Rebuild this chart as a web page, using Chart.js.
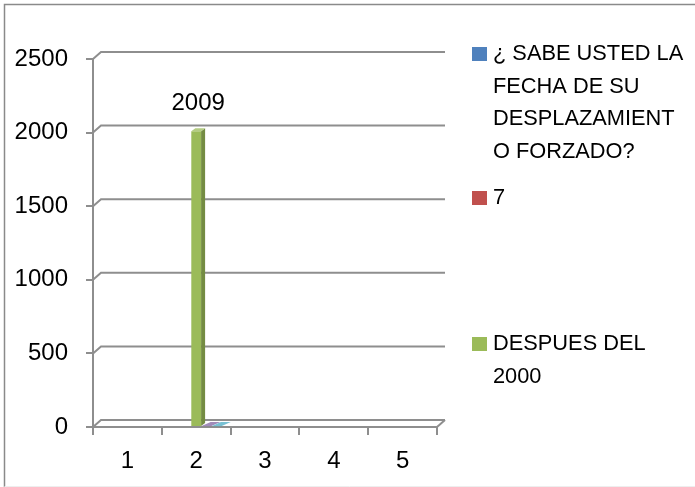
<!DOCTYPE html>
<html>
<head>
<meta charset="utf-8">
<script src="https://cdn.jsdelivr.net/npm/chart.js@4/dist/chart.umd.min.js"></script>
<style>
  html, body { margin: 0; padding: 0; background: #fff; }
  #wrap { position: relative; width: 695px; height: 487px; }
</style>
</head>
<body>
<div id="wrap"><canvas id="chart"></canvas></div>
<script>
"use strict";

// categories and tick labels
const categories = ["1", "2", "3", "4", "5"];
const yTicks = [0, 500, 1000, 1500, 2000, 2500];

// series
const sabeLabel = ["¿ SABE USTED LA", "FECHA DE SU", "DESPLAZAMIENT", "O FORZADO?"];
const sieteLabel = ["7"];
const despuesLabel = ["DESPUES DEL", "2000"];
const sabeValues = [0, 0, 0, 0, 0];
const sieteValues = [0, 0, 0, 0, 0];
const despuesValues = [0, 2009, 0, 0, 0];
// two unnamed series lying flat on the floor next to the green bar
const extraA = [0, 6, 0, 0, 0];
const extraB = [0, 6, 0, 0, 0];

const GRID = "#8e8e8e";
const FONT = "'Liberation Sans', Arial, sans-serif";

function shade(c, k) {
    let n = parseInt(c.slice(1), 16);
    let r = (n >> 16) & 255, g = (n >> 8) & 255, b = n & 255;
    let f = v => Math.max(0, Math.min(255, Math.round(k > 0 ? v + (255 - v) * k : v * (1 + k))));
    return "rgb(" + f(r) + "," + f(g) + "," + f(b) + ")";
}

// back wall, floor and frame (Excel 3D look)
const wallPlugin = {
    id: "wall",
    beforeDatasetsDraw(chart) {
        const ctx = chart.ctx, y = chart.scales.y, a = chart.chartArea;
        const dx = 8, dy = 7;
        ctx.save();
        ctx.strokeStyle = GRID;
        ctx.lineWidth = 2;
        yTicks.forEach(v => {
            const py = y.getPixelForValue(v);
            ctx.beginPath();
            ctx.moveTo(a.left, py);
            ctx.lineTo(a.left + dx, py - dy);
            ctx.lineTo(a.right + dx, py - dy);
            ctx.stroke();
        });
        // right edge of floor
        ctx.beginPath();
        ctx.moveTo(a.right, a.bottom);
        ctx.lineTo(a.right + dx, a.bottom - dy);
        ctx.stroke();
        ctx.restore();
    },
    afterDraw(chart) {
        const ctx = chart.ctx;
        ctx.save();
        ctx.strokeStyle = "#8a8a8a";
        ctx.lineWidth = 1.5;
        ctx.beginPath();
        ctx.moveTo(4.5, 487);
        ctx.lineTo(4.5, 4.5);
        ctx.lineTo(695, 4.5);
        ctx.stroke();
        ctx.strokeStyle = "#eeeeee";
        ctx.lineWidth = 1;
        ctx.beginPath();
        ctx.moveTo(4.5, 486.5);
        ctx.lineTo(695, 486.5);
        ctx.stroke();
        ctx.restore();
    }
};

// side and top faces on the bars, plus the value label
const barPlugin = {
    id: "bar3d",
    afterDatasetsDraw(chart) {
        const ctx = chart.ctx;
        ctx.save();
        chart.data.datasets.forEach((ds, i) => {
            const meta = chart.getDatasetMeta(i);
            meta.data.forEach((bar, j) => {
                if (!ds.data[j]) return;
                const p = bar.getProps(["x", "y", "width", "base"], true);
                const l = p.x - p.width / 2, r = p.x + p.width / 2;
                const flat = ds.data[j] < 50;
                const dx = flat ? 9 : 4, dy = flat ? 4 : 3;
                ctx.fillStyle = shade(ds.backgroundColor, -0.25);
                ctx.beginPath();
                ctx.moveTo(r, p.base);
                ctx.lineTo(r, p.y);
                ctx.lineTo(r + dx, p.y - dy);
                ctx.lineTo(r + dx, p.base - dy);
                ctx.closePath();
                ctx.fill();
                ctx.fillStyle = shade(ds.backgroundColor, 0.25);
                ctx.beginPath();
                ctx.moveTo(l, p.y);
                ctx.lineTo(r, p.y);
                ctx.lineTo(r + dx, p.y - dy);
                ctx.lineTo(l + dx, p.y - dy);
                ctx.closePath();
                ctx.fill();
                if (ds.showValue) {
                    ctx.fillStyle = "#000";
                    ctx.font = "24px " + FONT;
                    ctx.textAlign = "center";
                    ctx.textBaseline = "middle";
                    ctx.fillText(String(ds.data[j]), p.x + 2, p.y - 28);
                }
            });
        });
        ctx.restore();
    }
};

// legend on the right, with wrapped labels
const legendPlugin = {
    id: "sideLegend",
    afterDraw(chart) {
        const ctx = chart.ctx;
        const tops = [47, 191, 337];
        const lineH = 32.5;
        ctx.save();
        ctx.font = "21.8px " + FONT;
        ctx.textBaseline = "middle";
        ctx.textAlign = "left";
        chart.data.datasets.filter(d => d.inLegend).forEach((ds, i) => {
            const top = tops[i];
            ctx.fillStyle = ds.backgroundColor;
            ctx.fillRect(472, top, 15, 14);
            ctx.fillStyle = "#000";
            ds.label.forEach((line, k) => {
                ctx.fillText(line, 493, top + 7 + k * lineH);
            });
        });
        ctx.restore();
    }
};

function dataset(label, data, color, inLegend, showValue) {
    return {
        label: label,
        data: data,
        backgroundColor: color,
        inLegend: inLegend,
        showValue: showValue || false
    };
}

new Chart(document.getElementById("chart"), {
    type: "bar",
    data: {
        labels: categories,
        datasets: [
            dataset(sabeLabel, sabeValues, "#4F81BD", true),
            dataset(sieteLabel, sieteValues, "#C0504D", true),
            dataset(despuesLabel, despuesValues, "#9BBB59", true, true),
            dataset(["a"], extraA, "#8064A2", false),
            dataset(["b"], extraB, "#4BACC6", false)
        ]
    },
    options: {
        responsive: true,
        maintainAspectRatio: false,
        animation: false,
        categoryPercentage: 0.75,
        barPercentage: 0.95,
        layout: { padding: { left: 0, top: 59, right: 258, bottom: 0 } },
        plugins: {
            legend: { display: false },
            tooltip: { enabled: false }
        },
        scales: {
            x: {
                afterFit: s => { s.height = 60; },
                grid: {
                    offset: true,
                    drawOnChartArea: false,
                    tickLength: 8,
                    color: GRID,
                    lineWidth: 2
                },
                border: { display: true, color: GRID, width: 2 },
                ticks: { color: "#000", font: { family: FONT, size: 24 }, padding: 12 }
            },
            y: {
                min: 0,
                max: 2500,
                afterFit: s => { s.width = 93; },
                afterBuildTicks: s => { s.ticks = yTicks.map(v => ({ value: v })); },
                grid: {
                    drawOnChartArea: false,
                    tickLength: 7,
                    color: GRID,
                    lineWidth: 2
                },
                border: { display: true, color: GRID, width: 2 },
                ticks: {
                    color: "#000",
                    font: { family: FONT, size: 24 },
                    padding: 18,
                    callback: v => String(v)
                }
            }
        }
    },
    plugins: [wallPlugin, barPlugin, legendPlugin]
});
</script>
</body>
</html>
